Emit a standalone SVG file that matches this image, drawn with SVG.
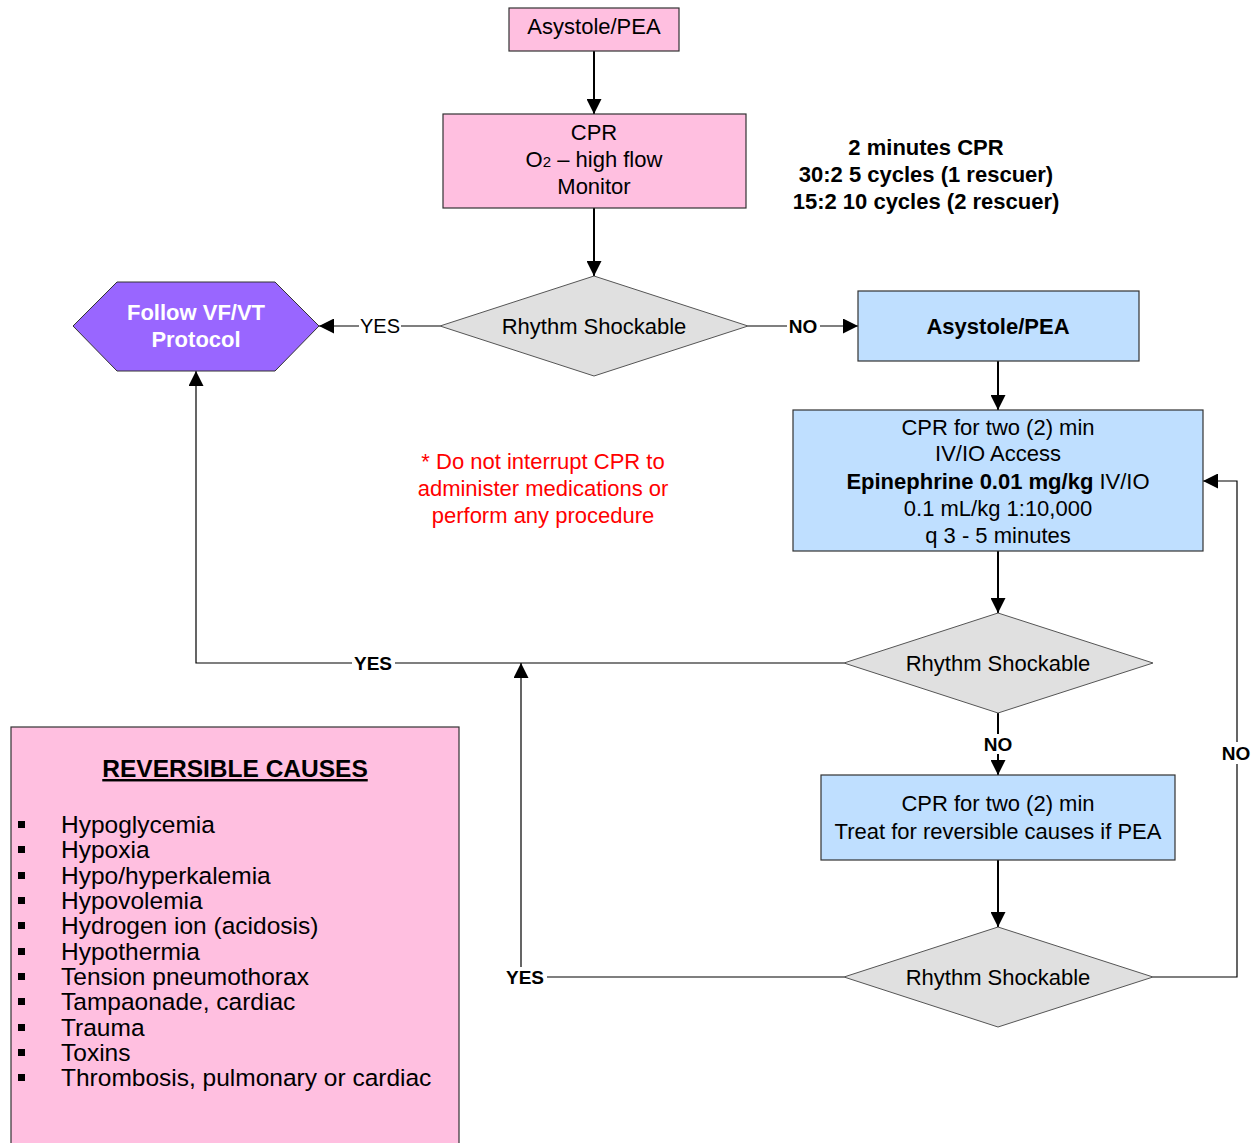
<svg xmlns="http://www.w3.org/2000/svg" width="1256" height="1143" viewBox="0 0 1256 1143">
  <style>
    text { font-family: "Liberation Sans", Arial, sans-serif; font-size: 22px; fill: #000; }
    .c { text-anchor: middle; }
    .b { font-weight: bold; }
    .pink { fill: #ffbfe0; stroke: #333; stroke-width: 1.2; }
    .blue { fill: #bfdfff; stroke: #333; stroke-width: 1.2; }
    .dia { fill: #e0e0e0; stroke: #555; stroke-width: 1; }
    .hex { fill: #9966ff; stroke: #333; stroke-width: 1; }
    .flow { fill: none; stroke: #000; stroke-width: 2; }
    .link { fill: none; stroke: #000; stroke-width: 1.2; }
    .lbl { font-size: 19px; font-weight: bold; }
    .note { fill: #ff0000; }
    .list { font-size: 24.5px; }
    .bg { fill: #fff; }
  </style>
  <defs>
    <marker id="arrow" markerUnits="userSpaceOnUse" markerWidth="17" markerHeight="15" refX="15" refY="7.5" orient="auto">
      <path d="M0,0 L15,7.5 L0,15 Z" fill="#000"/>
    </marker>
  </defs>

  <!-- connectors -->
  <g id="connectors">
    <path class="flow" d="M594,51 V114" marker-end="url(#arrow)"/>
    <path class="flow" d="M594,208 V276" marker-end="url(#arrow)"/>
    <path class="link" d="M440,326 H319" marker-end="url(#arrow)"/>
    <path class="link" d="M748,326 H858" marker-end="url(#arrow)"/>
    <path class="flow" d="M998,361 V410" marker-end="url(#arrow)"/>
    <path class="flow" d="M998,551 V613" marker-end="url(#arrow)"/>
    <path class="link" d="M844,663 H196 V371" marker-end="url(#arrow)"/>
    <path class="flow" d="M998,713 V775" marker-end="url(#arrow)"/>
    <path class="flow" d="M998,860 V927" marker-end="url(#arrow)"/>
    <path class="link" d="M844,977 H521 V663" marker-end="url(#arrow)"/>
    <path class="link" d="M1153,977 H1237 V481 H1203" marker-end="url(#arrow)"/>

    <!-- connector labels -->
    <rect class="bg" x="359" y="316" width="42" height="20"/>
    <text x="380" y="333" class="c" style="font-size:20px">YES</text>
    <rect class="bg" x="787" y="316" width="33" height="20"/>
    <text x="803" y="333" class="c lbl">NO</text>
    <rect class="bg" x="352" y="653" width="43" height="20"/>
    <text x="373" y="670" class="c lbl">YES</text>
    <rect class="bg" x="982" y="734" width="32" height="20"/>
    <text x="998" y="751" class="c lbl">NO</text>
    <rect class="bg" x="1220" y="742" width="34" height="22"/>
    <text x="1236" y="760" class="c lbl">NO</text>
    <rect class="bg" x="504" y="967" width="43" height="20"/>
    <text x="525" y="984" class="c lbl" textLength="38" lengthAdjust="spacingAndGlyphs">YES</text>
  </g>

  <g id="start">
    <rect class="pink" x="509" y="8" width="170" height="43"/>
    <text x="594" y="34" class="c">Asystole/PEA</text>
  </g>

  <g id="cpr-initial">
    <rect class="pink" x="443" y="114" width="303" height="94"/>
    <text x="594" y="140" class="c">CPR</text>
    <text x="594" y="167" class="c">O<tspan style="font-size:15px">2</tspan> – high flow</text>
    <text x="594" y="194" class="c">Monitor</text>
  </g>

  <g id="cpr-note">
    <text x="926" y="155" class="c b">2 minutes CPR</text>
    <text x="926" y="182" class="c b">30:2 5 cycles (1 rescuer)</text>
    <text x="926" y="209" class="c b">15:2 10 cycles (2 rescuer)</text>
  </g>

  <g id="decision-1">
    <polygon class="dia" points="440,326 594,276 748,326 594,376"/>
    <text x="594" y="334" class="c">Rhythm Shockable</text>
  </g>

  <g id="vf-vt">
    <polygon class="hex" points="73,326 117,282 275,282 319,326 275,371 117,371"/>
    <text x="196" y="320" class="c b" style="fill:#fff">Follow VF/VT</text>
    <text x="196" y="347" class="c b" style="fill:#fff">Protocol</text>
  </g>

  <g id="asystole-pea">
    <rect class="blue" x="858" y="291" width="281" height="70"/>
    <text x="998" y="334" class="c b">Asystole/PEA</text>
  </g>

  <g id="cpr-epinephrine">
    <rect class="blue" x="793" y="410" width="410" height="141"/>
    <text x="998" y="435" class="c">CPR for two (2) min</text>
    <text x="998" y="461" class="c">IV/IO Access</text>
    <text x="998" y="489" class="c"><tspan class="b">Epinephrine 0.01 mg/kg</tspan> IV/IO</text>
    <text x="998" y="516" class="c">0.1 mL/kg 1:10,000</text>
    <text x="998" y="543" class="c">q 3 - 5 minutes</text>
  </g>

  <g id="warning">
    <text x="543" y="469" class="c note">* Do not interrupt CPR to</text>
    <text x="543" y="496" class="c note">administer medications or</text>
    <text x="543" y="523" class="c note">perform any procedure</text>
  </g>

  <g id="decision-2">
    <polygon class="dia" points="844,663 998,613 1153,663 998,713"/>
    <text x="998" y="671" class="c">Rhythm Shockable</text>
  </g>

  <g id="cpr-reversible">
    <rect class="blue" x="821" y="775" width="354" height="85"/>
    <text x="998" y="811" class="c">CPR for two (2) min</text>
    <text x="998" y="839" class="c">Treat for reversible causes if PEA</text>
  </g>

  <g id="decision-3">
    <polygon class="dia" points="844,977 998,927 1153,977 998,1027"/>
    <text x="998" y="985" class="c">Rhythm Shockable</text>
  </g>

  <g id="reversible-causes">
    <rect class="pink" x="11" y="727" width="448" height="430"/>
    <text x="235" y="777" class="c b" style="font-size:24.5px;text-decoration:underline">REVERSIBLE CAUSES</text>
    <g fill="#000">
      <rect x="18" y="821" width="7" height="7"/>
      <rect x="18" y="846" width="7" height="7"/>
      <rect x="18" y="872" width="7" height="7"/>
      <rect x="18" y="897" width="7" height="7"/>
      <rect x="18" y="922" width="7" height="7"/>
      <rect x="18" y="948" width="7" height="7"/>
      <rect x="18" y="973" width="7" height="7"/>
      <rect x="18" y="998" width="7" height="7"/>
      <rect x="18" y="1024" width="7" height="7"/>
      <rect x="18" y="1049" width="7" height="7"/>
      <rect x="18" y="1074" width="7" height="7"/>
    </g>
    <text x="61" y="833" class="list">Hypoglycemia</text>
    <text x="61" y="858" class="list">Hypoxia</text>
    <text x="61" y="884" class="list">Hypo/hyperkalemia</text>
    <text x="61" y="909" class="list">Hypovolemia</text>
    <text x="61" y="934" class="list">Hydrogen ion (acidosis)</text>
    <text x="61" y="960" class="list">Hypothermia</text>
    <text x="61" y="985" class="list">Tension pneumothorax</text>
    <text x="61" y="1010" class="list">Tampaonade, cardiac</text>
    <text x="61" y="1036" class="list">Trauma</text>
    <text x="61" y="1061" class="list">Toxins</text>
    <text x="61" y="1086" class="list">Thrombosis, pulmonary or cardiac</text>
  </g>
</svg>
